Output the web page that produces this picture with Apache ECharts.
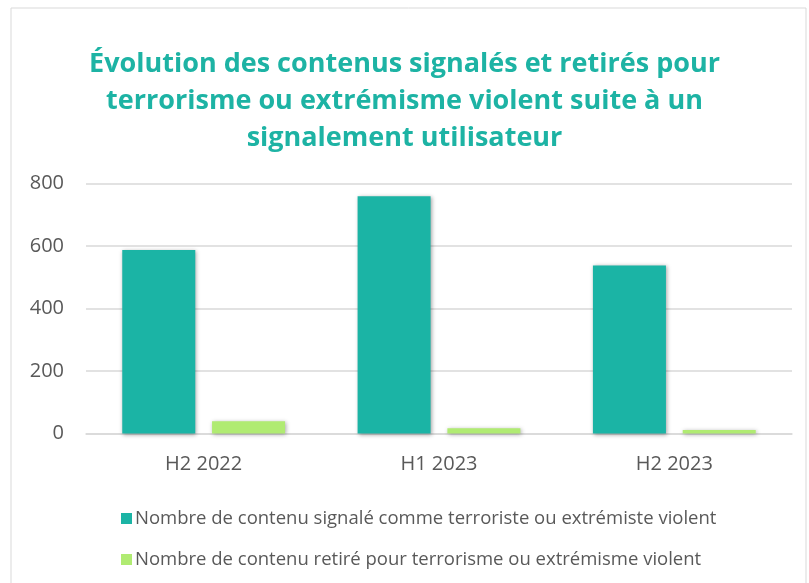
<!DOCTYPE html>
<html>
<head>
<meta charset="utf-8">
<script src="https://cdn.jsdelivr.net/npm/echarts@6/dist/echarts.min.js"></script>
<style>
  html, body { margin: 0; padding: 0; background: #fff; }
  #chart { width: 809px; height: 583px; }
</style>
</head>
<body>
<div id="chart"></div>
<script>
// données
const periods = ['H2 2022', 'H1 2023', 'H2 2023'];
const signales = [587, 759, 538];
const retires = [39, 17, 11];
const seriesNames = [
    'Nombre de contenu signalé comme terroriste ou extrémiste violent',
    'Nombre de contenu retiré pour terrorisme ou extrémisme violent'
];

const myEcharts = echarts.init(document.getElementById('chart'));
const barShadow = {
    shadowColor: 'rgba(0, 0, 0, 0.35)',
    shadowBlur: 4,
    shadowOffsetX: 1,
    shadowOffsetY: 1
};
const option = {
    backgroundColor: '#fff',
    textStyle: { fontFamily: 'Open Sans' },
    graphic: [{
        type: 'rect',
        shape: { x: 11, y: 8, width: 795, height: 590 },
        style: { fill: 'none', stroke: '#d9d9d9', lineWidth: 1 },
        silent: true
    }],
    title: {
        text: 'Évolution des contenus signalés et retirés pour\nterrorisme ou extrémisme violent suite à un\nsignalement utilisateur',
        left: 'center',
        top: 41,
        textStyle: {
            color: '#1db3a4',
            fontSize: 27,
            fontWeight: 'bold',
            lineHeight: 37,
            fontFamily: 'Open Sans'
        }
    },
    legend: {
        orient: 'vertical',
        left: 116,
        top: 504,
        itemGap: 22,
        itemWidth: 11,
        itemHeight: 11,
        icon: 'rect',
        textStyle: { color: '#595959', fontSize: 18.5, padding: [0, 0, 0, -2] },
        data: seriesNames
    },
    grid: {
        left: 86,
        right: 17,
        top: 183.5,
        bottom: 149.5,
        containLabel: false
    },
    xAxis: {
        type: 'category',
        data: periods,
        axisLine: { show: true, lineStyle: { color: '#d9d9d9', width: 1.5 } },
        axisTick: { show: false },
        axisLabel: { color: '#595959', fontSize: 20, margin: 21 }
    },
    yAxis: {
        type: 'value',
        min: 0,
        max: 800,
        interval: 200,
        axisLine: { show: false },
        axisTick: { show: false },
        axisLabel: { color: '#595959', fontSize: 20, margin: 22 },
        splitLine: { lineStyle: { color: '#d9d9d9', width: 1.5 } }
    },
    series: [{
        name: seriesNames[0],
        type: 'bar',
        data: signales,
        barWidth: 73,
        barGap: '23%',
        itemStyle: Object.assign({ color: '#1bb4a5' }, barShadow)
    }, {
        name: seriesNames[1],
        type: 'bar',
        data: retires,
        barWidth: 73,
        itemStyle: Object.assign({ color: '#b0eb72' }, barShadow)
    }]
};
myEcharts.setOption(option);
</script>
</body>
</html>
